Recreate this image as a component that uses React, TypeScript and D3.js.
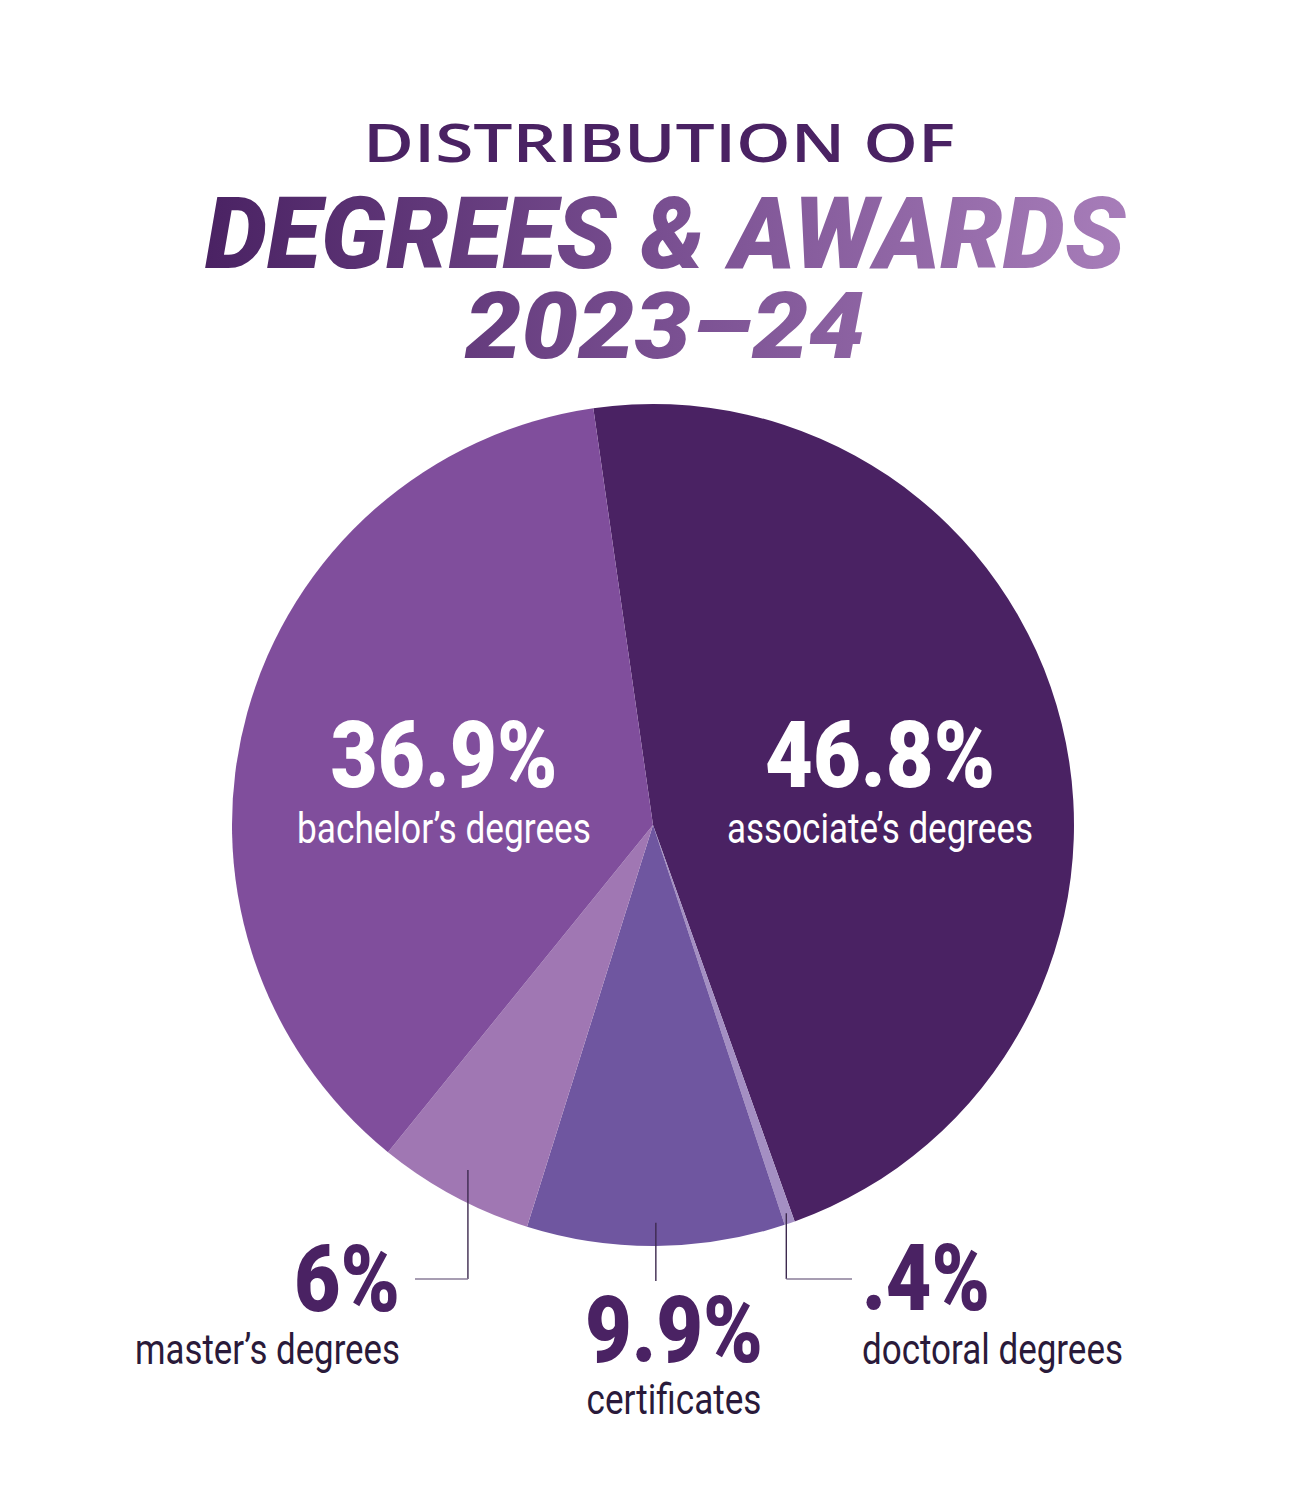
import React from "react";
import * as d3 from "d3";

const categories = ["associate’s degrees", "doctoral degrees", "certificates", "master’s degrees", "bachelor’s degrees"];
const values = [46.8, 0.4, 9.9, 6, 36.9];
const valueLabels = ["46.8%", ".4%", "9.9%", "6%", "36.9%"];
const sliceColors = ["#4a2263", "#a48fc3", "#6f56a0", "#a077b3", "#804e9c"];

const titleLine1 = "DISTRIBUTION OF";
const titleLine2 = "DEGREES & AWARDS";
const titleLine3 = "2023–24";

const W = 1305;
const H = 1500;
const cx = 653;
const cy = 825;
const R = 421;
const startDeg = -8.15;

type LabelSpec = {
  inside: boolean;
  x: number;
  anchor: "start" | "middle" | "end";
  pctY: number;
  subY: number;
  pctW: number;
  subW: number;
  leader?: { rf: number; elbowY: number; endX?: number };
};
const labelLayout: LabelSpec[] = [
  { inside: true, x: 880, anchor: "middle", pctY: 787, subY: 843, pctW: 230, subW: 306 },
  { inside: false, x: 862, anchor: "start", pctY: 1310, subY: 1364, pctW: 128, subW: 261, leader: { rf: 0.975, elbowY: 1279, endX: 852 } },
  { inside: false, x: 674, anchor: "middle", pctY: 1362, subY: 1414, pctW: 178, subW: 175, leader: { rf: 0.945, elbowY: 1281 } },
  { inside: false, x: 400, anchor: "end", pctY: 1311, subY: 1364, pctW: 106, subW: 265, leader: { rf: 0.93, elbowY: 1279, endX: 415 } },
  { inside: true, x: 444, anchor: "middle", pctY: 787, subY: 843, pctW: 227, subW: 294 },
];

export default function App() {
  const data = values.map((v, i) => ({ v, i }));
  const start = (startDeg * Math.PI) / 180;
  const pie = d3
    .pie<{ v: number; i: number }>()
    .sort(null)
    .value((d) => d.v)
    .startAngle(start)
    .endAngle(start + 2 * Math.PI);
  const arcs = pie(data);
  const arcGen = d3.arc<d3.PieArcDatum<{ v: number; i: number }>>().innerRadius(0).outerRadius(R);

  const pctFont = "Roboto, 'Liberation Sans', sans-serif";

  return (
    <svg width={W} height={H} style={{ position: "absolute", left: 0, top: 0, background: "#ffffff" }}>
      <defs>
        <linearGradient id="titleGrad" gradientUnits="userSpaceOnUse" x1={205} y1={0} x2={1125} y2={0}>
          <stop offset="0%" stopColor="#4a2263" />
          <stop offset="50%" stopColor="#794f91" />
          <stop offset="100%" stopColor="#a77db9" />
        </linearGradient>
      </defs>
      <text
        x={363}
        y={162}
        fontFamily="'Open Sans', sans-serif"
        fontWeight={600}
        fontSize={52}
        fill="#4a2263"
        textLength={592}
        lengthAdjust="spacingAndGlyphs"
      >
        {titleLine1}
      </text>
      <text
        x={205}
        y={268}
        fontFamily={pctFont}
        fontWeight={900}
        fontStyle="italic"
        fontSize={100}
        fill="url(#titleGrad)"
        textLength={920}
        lengthAdjust="spacingAndGlyphs"
      >
        {titleLine2}
      </text>
      <text
        x={465}
        y={358}
        fontFamily={pctFont}
        fontWeight={900}
        fontStyle="italic"
        fontSize={93}
        fill="url(#titleGrad)"
        textLength={400}
        lengthAdjust="spacingAndGlyphs"
      >
        {titleLine3}
      </text>

      <g transform={`translate(${cx},${cy})`}>
        {arcs.map((a) => (
          <path key={a.index} d={arcGen(a) || ""} fill={sliceColors[a.data.i]} />
        ))}
      </g>

      {arcs.map((a) => {
        const spec = labelLayout[a.data.i];
        const mid = (a.startAngle + a.endAngle) / 2;
        let leader = null;
        if (spec.leader) {
          const lx = cx + Math.sin(mid) * R * spec.leader.rf;
          const ly = cy - Math.cos(mid) * R * spec.leader.rf;
          leader = (
            <g>
              <line x1={lx} y1={ly} x2={lx} y2={spec.leader.elbowY} stroke="#3d2a4f" strokeWidth={1.4} />
              {spec.leader.endX !== undefined && (
                <line x1={lx} y1={spec.leader.elbowY} x2={spec.leader.endX} y2={spec.leader.elbowY} stroke="#8a7c98" strokeWidth={1.6} />
              )}
            </g>
          );
        }
        const pctColor = spec.inside ? "#ffffff" : "#4a2263";
        const subColor = spec.inside ? "#ffffff" : "#2a1a3a";
        return (
          <g key={a.index}>
            {leader}
            <text
              x={spec.x}
              y={spec.pctY}
              textAnchor={spec.anchor}
              fontFamily={pctFont}
              fontWeight={900}
              fontSize={92}
              fill={pctColor}
              textLength={spec.pctW}
              lengthAdjust="spacingAndGlyphs"
            >
              {valueLabels[a.data.i]}
            </text>
            <text
              x={spec.x}
              y={spec.subY}
              textAnchor={spec.anchor}
              fontFamily={pctFont}
              fontWeight={400}
              fontSize={42}
              fill={subColor}
              textLength={spec.subW}
              lengthAdjust="spacingAndGlyphs"
            >
              {categories[a.data.i]}
            </text>
          </g>
        );
      })}
    </svg>
  );
}
